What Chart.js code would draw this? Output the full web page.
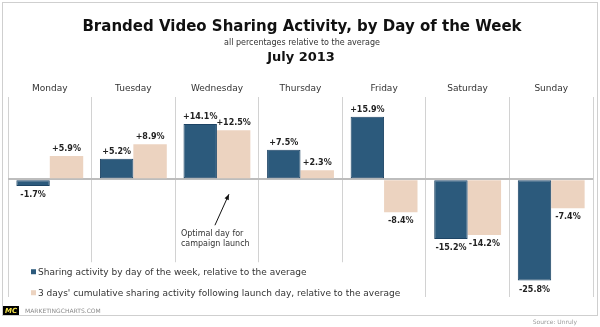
<!DOCTYPE html>
<html>
<head>
<meta charset="utf-8">
<script src="https://cdn.jsdelivr.net/npm/chart.js@4.4.0/dist/chart.umd.min.js"></script>
<style>
html,body{margin:0;padding:0;background:#fff;}
#c{display:block;}
</style>
</head>
<body>
<canvas id="c" width="600" height="327"></canvas>
<script>
const days = ["Monday","Tuesday","Wednesday","Thursday","Friday","Saturday","Sunday"];
const sharingByDay = [-1.7, 5.2, 14.1, 7.5, 15.9, -15.2, -25.8];
const cumulative3Days = [5.9, 8.9, 12.5, 2.3, -8.4, -14.2, -7.4];
const seriesNames = [
  "Sharing activity by day of the week, relative to the average",
  "3 days' cumulative sharing activity following launch day, relative to the average"
];
const titleText = "Branded Video Sharing Activity, by Day of the Week";
const subtitleText = "all percentages relative to the average";
const periodText = "July 2013";
const annotationLines = ["Optimal day for", "campaign launch"];
const sourceText = "Source: Unruly";
const brandText = "MARKETINGCHARTS.COM";

const FONT = "'DejaVu Sans', Verdana, sans-serif";
const BLUE = "#2c5a7c", BLUE_BORDER = "#1d4465", PEACH = "#ecd3c0";

const framePlugin = {
  id: "frame",
  beforeDraw(chart) {
    const ctx = chart.ctx;
    ctx.save();
    ctx.fillStyle = "#fff";
    ctx.fillRect(0, 0, chart.width, chart.height);
    ctx.strokeStyle = "#cfcfcf";
    ctx.lineWidth = 1;
    ctx.strokeRect(2.5, 2.5, 595, 313);
    ctx.textAlign = "center";
    ctx.textBaseline = "middle";
    ctx.fillStyle = "#111";
    ctx.font = "bold 15px " + FONT;
    ctx.fillText(titleText, 302, 27);
    ctx.fillStyle = "#333";
    ctx.font = "8px " + FONT;
    ctx.fillText(subtitleText, 302, 43);
    ctx.fillStyle = "#111";
    ctx.font = "bold 13px " + FONT;
    ctx.fillText(periodText, 301, 58);
    // footer
    ctx.fillStyle = "#000";
    ctx.fillRect(3, 306, 16, 9);
    ctx.fillStyle = "#f3e34a";
    ctx.font = "italic bold 7px " + FONT;
    ctx.fillText("MC", 11, 311);
    ctx.textAlign = "left";
    ctx.fillStyle = "#8a8a8a";
    ctx.font = "6px " + FONT;
    ctx.fillText(brandText, 25, 311);
    ctx.textAlign = "right";
    ctx.fillStyle = "#9a9a9a";
    ctx.fillText(sourceText, 577, 322);
    ctx.restore();
  }
};

const overlayPlugin = {
  id: "overlay",
  afterDatasetsDraw(chart) {
    const ctx = chart.ctx;
    const area = chart.chartArea;
    ctx.save();
    // data labels
    ctx.font = "bold 8px " + FONT;
    ctx.fillStyle = "#222";
    ctx.textAlign = "center";
    ctx.textBaseline = "middle";
    chart.data.datasets.forEach((ds, di) => {
      const meta = chart.getDatasetMeta(di);
      meta.data.forEach((bar, i) => {
        const v = ds.data[i];
        const txt = (v > 0 ? "+" : "") + v.toFixed(1) + "%";
        const y = v >= 0 ? bar.y - 7 : bar.y + 9;
        ctx.fillText(txt, bar.x, y);
      });
    });
    // legend box
    const xs = chart.scales.x, ys = chart.scales.y;
    const zeroY = ys.getPixelForValue(0);
    ctx.fillStyle = "#fff";
    ctx.fillRect(area.left + 1, zeroY + 83, 402, area.bottom - zeroY - 83);
    ctx.font = "9px " + FONT;
    ctx.textAlign = "left";
    const legendX = area.left + 23;
    const rows = [zeroY + 93, zeroY + 114];
    chart.data.datasets.forEach((ds, di) => {
      ctx.fillStyle = ds.backgroundColor;
      ctx.fillRect(legendX, rows[di] - 3, 5, 5);
      ctx.fillStyle = "#333";
      ctx.fillText(ds.label, legendX + 7, rows[di]);
    });
    // annotation for Wednesday
    const cx = xs.getPixelForValue(2);
    ctx.strokeStyle = "#111";
    ctx.fillStyle = "#111";
    ctx.lineWidth = 1;
    const tipX = cx + 12, tipY = zeroY + 15, tailX = cx - 2, tailY = zeroY + 46;
    ctx.beginPath();
    ctx.moveTo(tailX, tailY);
    ctx.lineTo(tipX, tipY);
    ctx.stroke();
    const ang = Math.atan2(tipY - tailY, tipX - tailX);
    ctx.beginPath();
    ctx.moveTo(tipX, tipY);
    ctx.lineTo(tipX - 6 * Math.cos(ang - 0.4), tipY - 6 * Math.sin(ang - 0.4));
    ctx.lineTo(tipX - 6 * Math.cos(ang + 0.4), tipY - 6 * Math.sin(ang + 0.4));
    ctx.closePath();
    ctx.fill();
    ctx.fillStyle = "#333";
    ctx.font = "8px " + FONT;
    ctx.fillText(annotationLines[0], cx - 36, zeroY + 55);
    ctx.fillText(annotationLines[1], cx - 36, zeroY + 65);
    ctx.restore();
  }
};

new Chart(document.getElementById("c"), {
  type: "bar",
  data: {
    labels: days,
    datasets: [
      { label: seriesNames[0], data: sharingByDay, backgroundColor: BLUE, borderColor: BLUE_BORDER, borderWidth: 1, borderSkipped: false },
      { label: seriesNames[1], data: cumulative3Days, backgroundColor: PEACH, borderWidth: 0 }
    ]
  },
  options: {
    responsive: false,
    animation: false,
    devicePixelRatio: 1,
    layout: { padding: { left: 8, right: 7, top: 80, bottom: 30 } },
    plugins: { legend: { display: false }, title: { display: false }, tooltip: { enabled: false } },
    datasets: { bar: { categoryPercentage: 0.8, barPercentage: 1.0 } },
    scales: {
      x: {
        position: "top",
        grid: { display: true, color: "#d2d2d2", lineWidth: 1, drawTicks: false, offset: true },
        border: { display: false },
        ticks: { font: { family: FONT, size: 9 }, color: "#333", padding: 3, maxRotation: 0 }
      },
      y: {
        min: -30, max: 21,
        afterFit(s) { s.width = 0; },
        ticks: { display: false },
        border: { display: false },
        grid: { drawTicks: false, color: (c) => c.tick && c.tick.value === 0 ? "#bdbdbd" : "rgba(0,0,0,0)", lineWidth: (c) => c.tick && c.tick.value === 0 ? 2 : 0 }
      }
    }
  },
  plugins: [framePlugin, overlayPlugin]
});
</script>
</body>
</html>
